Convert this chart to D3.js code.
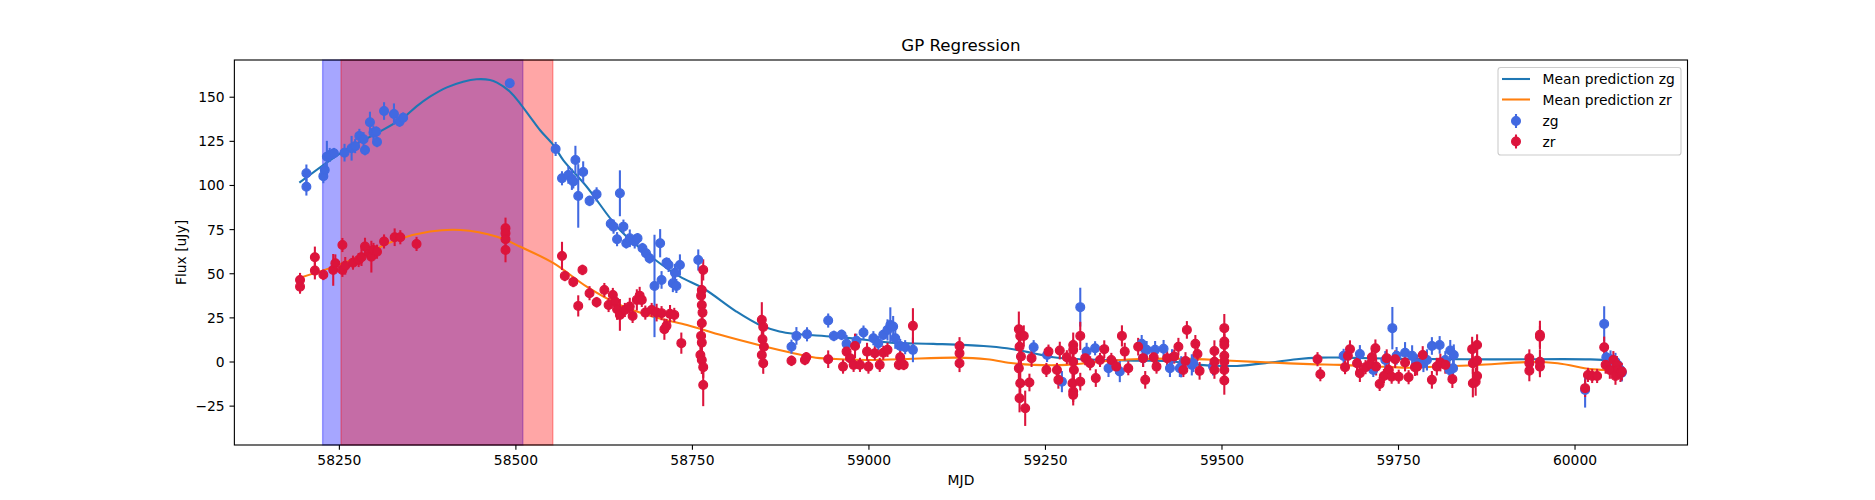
<!DOCTYPE html>
<html><head><meta charset="utf-8">
<script src="https://cdn.jsdelivr.net/npm/d3@7"></script>
<style>
html,body{margin:0;padding:0;background:#fff;}
svg{display:block;font-family:"DejaVu Sans",sans-serif;}
</style></head><body>
<svg id="chart" width="1875" height="500"></svg>
<script>
// ---------------- data ----------------
const chartTitle = "GP Regression";
const xLabel = "MJD";
const yLabel = "Flux [uJy]";
const xTicks = [58250, 58500, 58750, 59000, 59250, 59500, 59750, 60000];
const yTicks = [-25, 0, 25, 50, 75, 100, 125, 150];
const legendLabels = ["Mean prediction zg", "Mean prediction zr", "zg", "zr"];

const spanZg = [58227, 58510.5];
const spanZr = [58253, 58553];

const zgMJD = [
58204,58204,58228,58230,58233,58237,58243,58258,58268,58273,
58279,58285,58287,58294,58299,58303,58304,58314,58328,58336,
58341,58492,58557,58566,58575,58580,58582,58585,58589,58596,
58605,58615,58635,58639,58644,58648,58653,58657,58662,58669,
58673,58680,58685,58690,58697,58705,58707,58714,58717,58723,
58726,58728,58733,58759,58891,58898,58913,58943,58951,58962,
58969,58983,58993,59007,59014,59021,59027,59031,59035,59038,
59045,59052,59063,59234,59253,59274,59300,59309,59321,59340,
59356,59387,59389,59394,59406,59418,59427,59430,59441,59443,
59458,59460,59488,59673,59696,59715,59732,59742,59748,59760,
59770,59777,59786,59791,59798,59809,59817,59823,59824,59828,
59829,60015,60042,60045,60051,60058,60065,60067];
const zgFlux = [
106.6,99,105,108.5,116,117,118,118.3,120.8,122,
127.8,125.9,119.8,135.5,129.6,130.2,124.4,141.9,140.2,135.9,
138.1,157.6,120.4,103.8,105.7,103.2,102,114.2,93.8,107.4,
91,94.7,78,76.4,69.3,95.3,76.4,67,69.8,68,
69.8,64.2,61.3,58.5,42.8,67,46.2,56,54.7,44.3,
50.3,42.8,54.7,57.5,8.4,14.5,15.4,23.2,14.5,15.1,
10,11.8,16.4,13.2,10.4,15.1,17.9,20.7,19.8,13.2,
8.8,8.1,6.6,8.1,3.7,-11.4,30.8,5.6,7.5,-3.8,
-5.7,10,1.9,6.6,6.6,7.2,-3.8,2,-3.8,-3,
-1.9,-1,-2.9,3.2,4.3,-4.8,0.9,18.9,3.2,5,
3.2,-1,-1,0.9,8.8,9.4,0.9,-4.8,6.2,-3.8,
3.7,-16.1,21.3,2.4,1.3,-0.1,-4.8,-6.3];
const zgErr = [
5,5,4,4,9,4,3,5,7,4,
4,4,3,6,4,3,3,5,6,3,
3,2,4,4,5,6,4,8,18,6,
3,4,3,4,4,13,4,3,5,4,
3,3,3,3,29,8,5,3,4,5,
5,4,6,6,4,5,4,4,3,3,
5,4,4,4,4,3,6,10,6,6,
4,4,7,4,4,6,11,5,4,5,
6,5,5,5,5,5,5,5,5,6,
6,5,5,4,5,4,5,12,5,6,
6,5,5,6,5,5,5,5,6,6,
6,10,10,5,5,5,5,5];

const zrMJD = [
58195,58195,58216,58216,58228,58242,58245,58255,58255,58259,
58270,58278,58282,58287,58294,58296,58299,58304,58314,58329,
58337,58360,58486,58486,58486,58486,58566,58570,58582,58589,
58595,58605,58615,58626,58632,58638,58641,58644,58648,58655,
58662,58666,58672,58676,58679,58684,58693,58700,58707,58711,
58714,58719,58725,58735,58766,58764,58763,58764,58765,58764,
58763,58764,58762,58764,58766,58766,58849,58851,58850,58852,
58849,58851,58891,58910,58912,58943,58964,58969,58974,58979,
58981,58988,58998,59000,59009,59016,59021,59027,59043,59045,
59050,59063,59129,59129,59129,59213,59215,59214,59216,59213,
59215,59214,59220,59222,59228,59231,59252,59255,59267,59269,
59271,59281,59290,59290,59290,59291,59289,59290,59290,59300,
59300,59307,59314,59322,59328,59334,59344,59351,59359,59363,
59368,59382,59389,59392,59404,59408,59423,59433,59439,59446,
59449,59451,59463,59466,59469,59490,59490,59490,59504,59504,
59504,59504,59504,59504,59504,59636,59640,59675,59679,59682,
59692,59696,59704,59711,59713,59718,59719,59724,59730,59734,
59737,59741,59746,59751,59760,59765,59774,59777,59785,59798,
59805,59810,59817,59827,59855,59856,59856,59860,59862,59862,
59862,59936,59936,59936,59951,59951,59951,59951,60015,60019,
60025,60032,60042,60044,60050,60055,60058,60060,60062,60065,
60067];
const zrFlux = [
46.2,42.4,59.1,51.5,49.1,51.9,55.7,66,51.9,54.2,
56,57.5,59.1,65.1,60.9,59.4,63.2,62.2,68,70.4,
70.4,66.6,75.5,72.7,69.3,63.2,59.8,48.5,45.1,31.5,
51.9,38.7,33.6,40.5,32,37.7,34,29.6,26.4,29.2,
31.1,25.8,34.9,37.3,34.9,27.7,29.2,27.7,27.4,18.3,
20.2,27,26.4,10.4,51.9,40.5,37.3,32,27.7,21.7,
14.5,10.7,3.7,0.9,-3.2,-13.3,23.6,19.6,12.6,8.4,
3.7,-1,0.4,0.9,2.4,1.3,-2.9,5.6,1.9,-1.9,
8.8,-1.9,5.6,-2.9,4.7,-1.9,5,6.6,-1.9,2.4,
-1.9,20.2,8.8,4.7,-1,18.3,14.5,8.4,2.8,-3.8,
-12.3,-20.8,14.5,-26.5,-11.9,1.9,-4.8,5.6,-4.8,-10.4,
6.2,2.4,9.4,6.6,-0.1,-4.8,-12.3,-17,-18.9,14.5,
-11.4,1.9,-1,-9.4,0.9,7,0.9,-2.9,14.5,5.6,
-3.8,8.4,1.9,-10.4,2.4,-2.9,1.9,2.8,8.4,-4.8,
0.3,17.9,10,4.3,-5.3,6,-0.1,-4.8,18.9,11.3,
9.4,3.2,-0.1,-4.8,-10.8,1.3,-7.2,-3.2,3.2,7,
-1,-6.6,-3.2,-1.4,2.4,7.5,-2.9,-12.7,-8.2,1.9,
-4.8,-8.6,1.3,-8.6,-0.6,-8.9,-3.2,-2.9,3.7,-10.4,
-2.9,-0.6,-1.9,-10,7,-1,-12.3,-11.4,9.4,0.5,
-8.2,1.9,-1,-5.2,15.1,14.1,-0.1,-2.9,-15.1,-7.6,
-8.2,-8.2,8.1,-1.9,-4.8,0.9,-8.2,-1.9,-4.8,-6.6,
-5.7];
const zrErr = [
4,4,6,5,3,9,5,4,4,5,
4,4,5,5,4,9,4,4,4,5,
4,4,6,4,4,7,8,3,3,6,
3,4,3,4,4,4,5,6,9,4,
5,4,6,5,4,4,4,5,4,6,
4,5,4,6,6,10,6,5,6,8,
6,10,6,8,6,12,10,6,8,5,
6,6,3,3,3,5,4,5,4,4,
7,4,5,4,4,4,4,4,3,4,
3,10,5,5,5,10,6,8,6,8,
8,8,6,10,5,5,4,4,4,5,
5,4,7,6,6,6,6,6,6,8,
5,4,4,5,4,5,4,4,6,5,
4,5,5,5,5,4,4,4,5,4,
5,5,5,4,5,6,5,5,8,6,
6,6,6,6,8,4,4,4,5,5,
5,5,4,5,5,5,5,4,4,5,
5,4,5,4,5,4,5,5,5,5,
5,5,5,5,7,6,8,8,6,6,
6,5,5,6,8,6,7,6,5,4,
4,4,6,5,5,5,5,5,5,5,
5];

const predZgMJD = [58194,58259,58300,58341,58360,58379,58403,58426,58445,58464,
58474,58492,58507,58521,58535,58554,58568,58601,58648,58695,
58733,58766,58813,58846,58874,58898,58950,58998,59031,59092,
59163,59196,59234,59262,59304,59375,59422,59470,59500,59522,
59569,59606,59640,59669,59750,59881,60022,60050,60067];
const predZg = [101.3,119.8,128.5,138,144.5,150,155.3,158.5,159.9,159.5,
158,153,146,138.5,131,122.5,114,99,74.5,58.5,
48.1,41.5,28.3,20.7,17,15.6,14.1,12.2,10.7,10,
8.8,7.5,4.7,2.4,1.3,0.5,0.3,-1.9,-2.5,-2.5,
-0.6,1.3,2.2,2.2,1.5,1.2,1.2,0.5,-1];
const predZrMJD = [58195,58237,58285,58332,58379,58422,58474,58507,58554,58601,
58648,58695,58743,58764,58790,58850,58891,58931,58950,58998,
59045,59125,59168,59205,59234,59281,59328,59375,59456,59522,
59569,59625,59669,59730,59769,59800,59862,59938,59976,60022,
60041,60067];
const predZr = [47.5,52.9,60.4,68.9,73.6,74.5,70.7,65,55.7,42.4,
32,25.4,20.7,18.3,15.1,8.8,5,1.9,1.5,0.9,
1.3,2.2,1.3,-1,-1.9,-1.9,-0.1,1.3,1.5,0.3,
-0.6,-1.5,-1.9,-3,-3.5,-3,-2,-0.3,-1,-4.3,
-4.8,-6];

// ---------------- drawing ----------------
const COL_ZG = "#4169e1", COL_ZR = "#dc143c";
const COL_LZG = "#1f77b4", COL_LZR = "#ff7f0e";
const FS = 13.89;
const L = 234.375, R = 1687.5, T = 60, B = 445;

const svg = d3.select("#chart");
const x = d3.scaleLinear().domain([58102, 60160]).range([L, R]);
const y = d3.scaleLinear().domain([-47.3, 170.8]).range([B, T]);

function zip(a, b, c) {
  const n = Math.min(a.length, b.length, c ? c.length : Infinity);
  return d3.range(n).map(i => ({x: a[i], y: b[i], e: c ? c[i] : 0}));
}

const plot = svg.append("g");
// spans
[[spanZg, "#0000ff"], [spanZr, "#ff0000"]].forEach(([s, c]) => {
  plot.append("rect")
    .attr("x", x(s[0])).attr("y", T)
    .attr("width", x(s[1]) - x(s[0])).attr("height", B - T)
    .attr("fill", c).attr("fill-opacity", 0.35)
    .attr("stroke", c).attr("stroke-opacity", 0.35).attr("stroke-width", 1.39);
});

// curves
const line = d3.line().x(d => x(d.x)).y(d => y(d.y)).curve(d3.curveCatmullRom.alpha(0.5));
plot.append("path").datum(zip(predZgMJD, predZg)).attr("d", line)
  .attr("fill", "none").attr("stroke", COL_LZG).attr("stroke-width", 2.08);
plot.append("path").datum(zip(predZrMJD, predZr)).attr("d", line)
  .attr("fill", "none").attr("stroke", COL_LZR).attr("stroke-width", 2.08);

const zg = zip(zgMJD, zgFlux, zgErr);
const zr = zip(zrMJD, zrFlux, zrErr);

function bars(data, col) {
  plot.append("g").selectAll("line").data(data).join("line")
    .attr("x1", d => x(d.x)).attr("x2", d => x(d.x))
    .attr("y1", d => y(d.y - d.e)).attr("y2", d => y(d.y + d.e))
    .attr("stroke", col).attr("stroke-width", 2.08);
}
function dots(data, col) {
  plot.append("g").selectAll("circle").data(data).join("circle")
    .attr("cx", d => x(d.x)).attr("cy", d => y(d.y)).attr("r", 4.4)
    .attr("fill", col).attr("stroke", col).attr("stroke-width", 1.2);
}
bars(zg, COL_ZG); bars(zr, COL_ZR);
dots(zg, COL_ZG); dots(zr, COL_ZR);

// axes
const fmt = v => String(v).replace("-", "\u2212");
const xAxis = svg.append("g").attr("transform", `translate(0,${B})`)
  .call(d3.axisBottom(x).tickValues(xTicks).tickFormat(fmt).tickSize(4.86).tickPadding(4.86));
const yAxis = svg.append("g").attr("transform", `translate(${L},0)`)
  .call(d3.axisLeft(y).tickValues(yTicks).tickFormat(fmt).tickSize(4.86).tickPadding(4.86));
[xAxis, yAxis].forEach(a => {
  a.select(".domain").remove();
  a.selectAll(".tick line").attr("stroke", "#000").attr("stroke-width", 1.11);
  a.selectAll(".tick text").attr("fill", "#000")
    .style("font-family", "'DejaVu Sans', sans-serif").style("font-size", FS + "px");
});
xAxis.selectAll(".tick text").attr("dy", "0.76em");
yAxis.selectAll(".tick text").attr("dy", "0.36em");

// frame
svg.append("rect").attr("x", L).attr("y", T).attr("width", R - L).attr("height", B - T)
  .attr("fill", "none").attr("stroke", "#000").attr("stroke-width", 1.11);

// labels
svg.append("text").attr("x", (L + R) / 2).attr("y", 51).attr("text-anchor", "middle")
  .style("font-size", "16.67px").text(chartTitle);
svg.append("text").attr("x", (L + R) / 2).attr("y", 484.5).attr("text-anchor", "middle")
  .style("font-size", FS + "px").text(xLabel);
svg.append("text").attr("transform", `translate(186,${(T + B) / 2}) rotate(-90)`)
  .attr("text-anchor", "middle").style("font-size", FS + "px").text(yLabel);

// legend
const lg = svg.append("g");
lg.append("rect").attr("x", 1498).attr("y", 67.5).attr("width", 183).attr("height", 87.5)
  .attr("rx", 2.8).attr("fill", "#fff").attr("fill-opacity", 0.8)
  .attr("stroke", "#cccccc").attr("stroke-width", 1.1);
const rows = [79, 99.5, 121, 141.5];
const kinds = [["line", COL_LZG], ["line", COL_LZR], ["eb", COL_ZG], ["eb", COL_ZR]];
rows.forEach((ry, i) => {
  const [k, c] = kinds[i];
  if (k === "line") {
    lg.append("line").attr("x1", 1502).attr("x2", 1530).attr("y1", ry).attr("y2", ry)
      .attr("stroke", c).attr("stroke-width", 2.08);
  } else {
    lg.append("line").attr("x1", 1516).attr("x2", 1516).attr("y1", ry - 7).attr("y2", ry + 7)
      .attr("stroke", c).attr("stroke-width", 2.08);
    lg.append("circle").attr("cx", 1516).attr("cy", ry).attr("r", 4.4)
      .attr("fill", c).attr("stroke", c).attr("stroke-width", 1.2);
  }
  lg.append("text").attr("x", 1542.5).attr("y", ry + 5).style("font-size", FS + "px")
    .text(legendLabels[i]);
});
</script>
</body></html>
